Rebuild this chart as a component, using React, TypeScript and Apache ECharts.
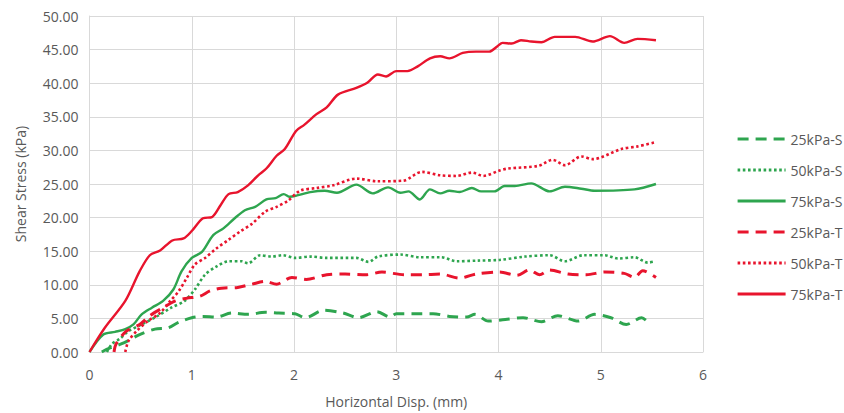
import React, { useEffect, useRef } from "react";
import * as echarts from "echarts";

const seriesNames = ["25kPa-S", "50kPa-S", "75kPa-S", "25kPa-T", "50kPa-T", "75kPa-T"];
const xTicks = [0, 1, 2, 3, 4, 5, 6];

const s25: number[][] = [[0.12,0],[0.2,0.6],[0.31,1.2],[0.38,1.7],[0.49,2.6],[0.64,3.4],[0.77,3.6],[0.87,4.4],[1.0,5.1],[1.11,5.3],[1.24,5.2],[1.39,5.8],[1.55,5.6],[1.72,5.9],[1.85,5.8],[2.01,5.7],[2.11,5.1],[2.29,6.2],[2.48,5.8],[2.63,5.1],[2.81,6.0],[2.94,5.2],[3.0,5.7],[3.17,5.7],[3.36,5.7],[3.52,5.3],[3.69,5.2],[3.77,5.6],[3.9,4.6],[4.04,4.8],[4.24,5.1],[4.42,4.5],[4.58,5.4],[4.78,4.6],[4.94,5.6],[5.1,5.1],[5.25,4.1],[5.4,5.1],[5.46,4.5]];
const s50: number[][] = [[0.17,0],[0.22,1.2],[0.3,2.0],[0.38,3.1],[0.51,4.1],[0.66,5.3],[0.8,6.6],[0.93,7.6],[1.03,9.3],[1.13,11.5],[1.24,12.7],[1.36,13.5],[1.49,13.5],[1.55,13.2],[1.67,14.4],[1.78,14.2],[1.89,14.4],[2.01,14.0],[2.16,14.2],[2.32,14.0],[2.61,14.0],[2.73,13.4],[2.82,14.2],[3.04,14.5],[3.23,14.1],[3.44,14.1],[3.59,13.5],[3.8,13.6],[4.01,13.7],[4.26,14.2],[4.5,14.4],[4.65,13.5],[4.83,14.4],[5.04,14.4],[5.17,13.9],[5.33,14.1],[5.46,13.3],[5.53,13.5]];
const s75: number[][] = [[0,0],[0.135,2.6],[0.25,3.0],[0.35,3.4],[0.43,4.1],[0.51,5.6],[0.61,6.6],[0.72,7.6],[0.82,9.3],[0.9,12.0],[1.0,14.0],[1.1,14.9],[1.21,17.4],[1.31,18.4],[1.42,19.9],[1.52,21.1],[1.62,21.6],[1.73,22.7],[1.82,22.9],[1.9,23.5],[1.96,23.1],[2.03,23.3],[2.16,23.8],[2.3,24.0],[2.42,23.7],[2.61,24.9],[2.77,23.6],[2.92,24.5],[3.04,23.7],[3.12,23.9],[3.23,22.7],[3.33,24.2],[3.43,23.6],[3.52,24.0],[3.62,23.8],[3.74,24.4],[3.83,23.9],[3.96,23.9],[4.06,24.7],[4.16,24.7],[4.32,25.1],[4.5,23.9],[4.65,24.6],[4.81,24.3],[4.94,24.0],[5.33,24.2],[5.54,25.0]];
const t25: number[][] = [[0.24,0],[0.26,1.2],[0.36,3.1],[0.49,4.1],[0.59,5.4],[0.72,6.6],[0.84,7.6],[0.95,8.0],[1.08,8.3],[1.18,9.1],[1.29,9.5],[1.45,9.6],[1.59,10.1],[1.72,10.5],[1.83,10.1],[1.98,11.1],[2.12,10.8],[2.32,11.5],[2.5,11.6],[2.71,11.5],[2.86,11.9],[3.08,11.5],[3.25,11.5],[3.43,11.6],[3.62,11.0],[3.78,11.6],[4.01,11.9],[4.18,11.4],[4.3,12.2],[4.4,11.5],[4.5,12.2],[4.68,11.6],[4.86,11.5],[5.04,11.9],[5.23,11.7],[5.33,11.1],[5.41,12.1],[5.54,11.1]];
const t50: number[][] = [[0.35,0],[0.38,1.6],[0.46,3.1],[0.57,4.6],[0.69,5.8],[0.79,7.6],[0.87,9.0],[0.95,11.0],[1.03,13.0],[1.13,14.0],[1.24,15.4],[1.36,16.7],[1.47,17.9],[1.59,19.1],[1.72,20.9],[1.83,21.6],[1.94,22.5],[2.06,24.0],[2.22,24.4],[2.38,24.8],[2.61,25.8],[2.82,25.4],[3.07,25.5],[3.25,26.8],[3.43,26.3],[3.59,26.2],[3.74,26.7],[3.85,26.2],[4.01,27.0],[4.09,27.3],[4.39,27.7],[4.53,28.6],[4.65,27.8],[4.81,29.1],[4.92,28.7],[5.2,30.2],[5.36,30.6],[5.53,31.2]];
const t75: number[][] = [[0,0],[0.15,3.6],[0.35,7.6],[0.49,12],[0.59,14.4],[0.69,15.1],[0.81,16.6],[0.92,16.9],[1.0,18],[1.11,19.9],[1.2,20.1],[1.28,21.8],[1.36,23.5],[1.45,23.8],[1.55,24.8],[1.65,26.3],[1.73,27.3],[1.83,29.2],[1.91,30.2],[2.02,32.9],[2.1,33.8],[2.22,35.4],[2.32,36.4],[2.43,38.3],[2.61,39.3],[2.72,40.1],[2.82,41.3],[2.9,41.0],[3.0,41.8],[3.11,41.8],[3.21,42.5],[3.33,43.7],[3.43,44.0],[3.52,43.7],[3.65,44.5],[3.78,44.7],[3.91,44.7],[3.99,45.5],[4.04,46.0],[4.13,45.9],[4.22,46.4],[4.32,46.2],[4.42,46.1],[4.55,46.9],[4.75,46.9],[4.92,46.2],[5.09,47.0],[5.23,46.0],[5.36,46.6],[5.54,46.4]];

const GREEN = "#2ea54f";
const RED = "#e8142d";
const FONT = "Open Sans";
const TXT = "#595959";

export default function App() {
  const ref = useRef<HTMLDivElement>(null);
  useEffect(() => {
    if (!ref.current) return;
    const chart = echarts.init(ref.current, null, { renderer: "svg" });
    const dataSets = [s25, s50, s75, t25, t50, t75];
    const colors = [GREEN, GREEN, GREEN, RED, RED, RED];
    const styles: any[] = [
      { width: 3, type: [11, 7] },
      { width: 2.6, type: [2.6, 2.6] },
      { width: 2.4, type: "solid" },
      { width: 3, type: [11, 7] },
      { width: 2.6, type: [2.6, 2.6] },
      { width: 2.4, type: "solid" },
    ];
    chart.setOption({
      animation: false,
      textStyle: { fontFamily: FONT },
      grid: { left: 89.5, right: 141, top: 16, bottom: 58.5 },
      legend: {
        orient: "vertical",
        left: 731,
        top: 127,
        padding: 5,
        itemWidth: 48,
        itemHeight: 14,
        itemGap: 17,
        data: seriesNames,
        itemStyle: { opacity: 0 },
        lineStyle: { width: 3.2 },
        textStyle: { fontFamily: FONT, fontSize: 14, color: TXT },
      },
      xAxis: {
        type: "value",
        min: 0,
        max: 6,
        interval: 1,
        name: "Horizontal Disp. (mm)",
        nameLocation: "middle",
        nameGap: 42,
        nameTextStyle: { fontFamily: FONT, fontSize: 14, color: TXT },
        axisLine: { show: true, lineStyle: { color: "#d9d9d9", width: 1 } },
        axisTick: { show: false },
        axisLabel: { fontFamily: FONT, fontSize: 14, color: TXT, margin: 15, formatter: (v: number) => String(v) },
        splitLine: { show: true, lineStyle: { color: "#d9d9d9", width: 1 } },
      },
      yAxis: {
        type: "value",
        min: 0,
        max: 50,
        interval: 5,
        name: "Shear Stress (kPa)",
        nameLocation: "middle",
        nameGap: 62,
        nameTextStyle: { fontFamily: FONT, fontSize: 14, color: TXT },
        axisLine: { show: true, lineStyle: { color: "#d9d9d9", width: 1 } },
        axisTick: { show: false },
        axisLabel: { fontFamily: FONT, fontSize: 14, color: TXT, margin: 11, formatter: (v: number) => v.toFixed(2) },
        splitLine: { show: true, lineStyle: { color: "#d9d9d9", width: 1 } },
      },
      series: seriesNames.map((name, i) => ({
        name,
        type: "line",
        data: dataSets[i],
        showSymbol: false,
        symbol: "none",
        smooth: 0.3,
        color: colors[i],
        lineStyle: { color: colors[i], width: styles[i].width, type: styles[i].type, cap: "butt" },
      })),
    });
    return () => chart.dispose();
  }, []);
  return <div ref={ref} style={{ width: 844, height: 413, position: "absolute", left: 0, top: 0 }} />;
}
